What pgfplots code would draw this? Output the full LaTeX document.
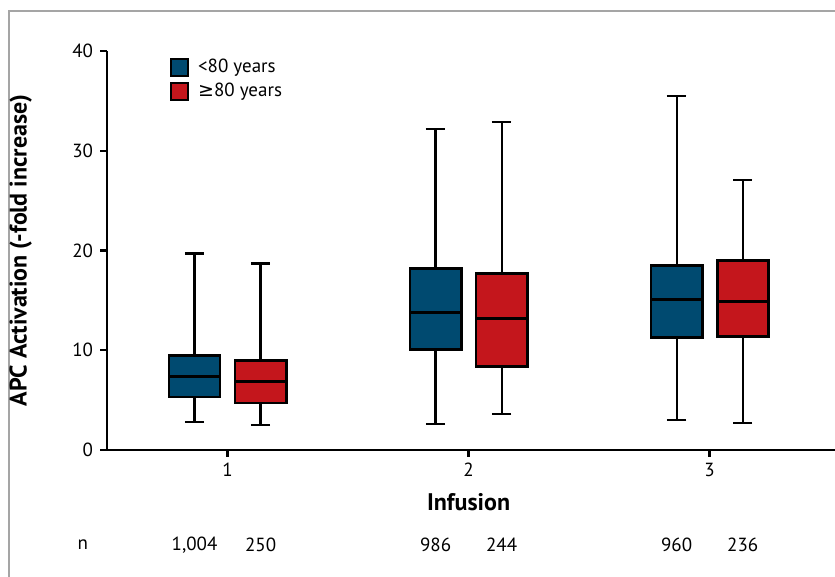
\documentclass[border=0pt]{standalone}
\usepackage{fontspec}
\setmainfont{PT Sans}
\newfontfamily\symfont{DejaVu Sans}
\usepackage{pgfplots}
\pgfplotsset{compat=1.18}
\usepgfplotslibrary{statistics}
\definecolor{young}{RGB}{0,74,112}
\definecolor{old}{RGB}{196,22,28}
\definecolor{framegray}{RGB}{165,165,165}

\newcommand{\fs}{\fontsize{9.5}{11}\selectfont}
\newcommand{\fl}{\fontsize{12}{14}\selectfont\bfseries}

\begin{document}
\begin{tikzpicture}
\begin{axis}[
    scale only axis,
    width=364pt, height=199.5pt,
    xmin=0.5, xmax=3.52, ymin=0, ymax=40,
    axis x line=bottom, axis y line=left,
    axis line style={-, line width=1.2pt, black},
    xtick={1,2,3}, ytick={0,10,20,30,40},
    tick style={line width=1.2pt, black},
    tick align=outside, major tick length=3.5pt,
    x tick label style={font=\fs, yshift=0.5pt},
    y tick label style={font=\fs},
    /pgf/number format/assume math mode=true,
    xlabel={Infusion},
    xlabel style={font=\fl, at={(axis cs:2,-5.2)}, anchor=center},
    ylabel={APC Activation (-fold increase)},
    ylabel style={font=\fl, at={(axis cs:0.142,20)}, anchor=center},
    clip=false,
    boxplot/draw direction=y,
    boxplot/every box/.style={draw=black, line width=1.4pt},
    boxplot/every median/.style={draw=black, line width=1.4pt},
    boxplot/every whisker/.style={draw=black, line width=1.1pt},
    legend style={draw=none, fill=none, inner sep=0pt, font=\fs,
      at={(axis cs:0.758,39.5)}, anchor=north west,
      nodes={inner sep=1.5pt}, row sep=0.5pt},
    legend cell align=left,
  ]

  % legend squares
  \addlegendimage{legend image code/.code={\draw[draw=black, line width=1.1pt, fill=young] (0pt,-4.25pt) rectangle (8.5pt,4.25pt); \path (12pt,0pt);}}
  \addlegendentry{<80 years}
  \addlegendimage{legend image code/.code={\draw[draw=black, line width=1.1pt, fill=old] (0pt,-4.25pt) rectangle (8.5pt,4.25pt); \path (12pt,0pt);}}
  \addlegendentry{{\symfont ≥}80 years}

  % infusion 1
  \addplot[fill=young, line width=1.4pt, forget plot, boxplot prepared={draw position=0.863,
    lower whisker=2.8, lower quartile=5.3, median=7.4,
    upper quartile=9.5, upper whisker=19.7, box extend=0.212, whisker extend=0.08}]
    coordinates {};
  \addplot[fill=old, line width=1.4pt, forget plot, boxplot prepared={draw position=1.137,
    lower whisker=2.5, lower quartile=4.7, median=6.9,
    upper quartile=9.0, upper whisker=18.7, box extend=0.212, whisker extend=0.08}]
    coordinates {};
  % infusion 2
  \addplot[fill=young, line width=1.4pt, forget plot, boxplot prepared={draw position=1.863,
    lower whisker=2.6, lower quartile=10.1, median=13.8,
    upper quartile=18.2, upper whisker=32.2, box extend=0.212, whisker extend=0.08}]
    coordinates {};
  \addplot[fill=old, line width=1.4pt, forget plot, boxplot prepared={draw position=2.137,
    lower whisker=3.6, lower quartile=8.4, median=13.2,
    upper quartile=17.7, upper whisker=32.9, box extend=0.212, whisker extend=0.08}]
    coordinates {};
  % infusion 3
  \addplot[fill=young, line width=1.4pt, forget plot, boxplot prepared={draw position=2.863,
    lower whisker=3.0, lower quartile=11.3, median=15.1,
    upper quartile=18.5, upper whisker=35.5, box extend=0.212, whisker extend=0.08}]
    coordinates {};
  \addplot[fill=old, line width=1.4pt, forget plot, boxplot prepared={draw position=3.137,
    lower whisker=2.7, lower quartile=11.4, median=14.9,
    upper quartile=19.0, upper whisker=27.1, box extend=0.212, whisker extend=0.08}]
    coordinates {};

  % sample sizes
  \node[font=\fs] at (axis cs:0.40,-9.5) {n};
  \node[font=\fs] at (axis cs:0.863,-9.5) {1,004};
  \node[font=\fs] at (axis cs:1.137,-9.5) {250};
  \node[font=\fs] at (axis cs:1.863,-9.5) {986};
  \node[font=\fs] at (axis cs:2.137,-9.5) {244};
  \node[font=\fs] at (axis cs:2.863,-9.5) {960};
  \node[font=\fs] at (axis cs:3.137,-9.5) {236};

  % frame of the cropped figure
  \draw[framegray, line width=0.8pt] (axis cs:0.0934,-12.8) -- (axis cs:0.0934,44.0) -- (axis cs:3.53,44.0);

  \coordinate (bl) at (axis cs:0.056,-12.73);
  \coordinate (tr) at (axis cs:3.52,45.11);
\end{axis}
\pgfresetboundingbox
\path[use as bounding box] (bl) rectangle (tr);
\end{tikzpicture}
\end{document}
